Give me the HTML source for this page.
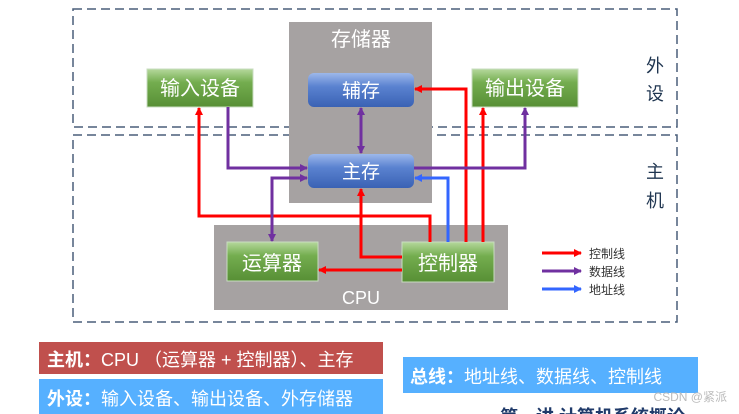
<!DOCTYPE html>
<html><head><meta charset="utf-8"><style>
html,body{margin:0;padding:0;background:#fff;width:739px;height:414px;overflow:hidden}
svg text{font-family:"Liberation Sans","Noto Sans CJK SC",sans-serif}
</style></head><body>
<svg width="739" height="414" viewBox="0 0 739 414" xmlns="http://www.w3.org/2000/svg">
<defs>
<linearGradient id="g" x1="0" y1="0" x2="0" y2="1"><stop offset="0" stop-color="#b5d89c"/><stop offset="0.35" stop-color="#74ad4f"/><stop offset="1" stop-color="#578f35"/></linearGradient>
<linearGradient id="b" x1="0" y1="0" x2="0" y2="1"><stop offset="0" stop-color="#9db8ea"/><stop offset="0.4" stop-color="#5a82d0"/><stop offset="1" stop-color="#3a62b4"/></linearGradient>
<marker id="ar" markerWidth="8" markerHeight="8" refX="7" refY="4" orient="auto" markerUnits="userSpaceOnUse"><path d="M0,0 L8,4 L0,8 Z" fill="#ff0000"/></marker>
<marker id="ap" markerWidth="8" markerHeight="8" refX="7" refY="4" orient="auto" markerUnits="userSpaceOnUse"><path d="M0,0 L8,4 L0,8 Z" fill="#7030a0"/></marker>
<marker id="aps" markerWidth="8" markerHeight="8" refX="1" refY="4" orient="auto" markerUnits="userSpaceOnUse"><path d="M8,0 L0,4 L8,8 Z" fill="#7030a0"/></marker>
<marker id="ab" markerWidth="8" markerHeight="8" refX="7" refY="4" orient="auto" markerUnits="userSpaceOnUse"><path d="M0,0 L8,4 L0,8 Z" fill="#3366ff"/></marker>
</defs>
<rect x="73" y="9" width="604" height="118" fill="none" stroke="#4a5f7a" stroke-width="1.5" stroke-dasharray="9,5"/>
<rect x="73" y="135" width="604" height="187" fill="none" stroke="#4a5f7a" stroke-width="1.5" stroke-dasharray="9,5"/>
<text x="655" y="72" font-size="18" fill="#1f3550" text-anchor="middle">外</text>
<text x="655" y="100" font-size="18" fill="#1f3550" text-anchor="middle">设</text>
<text x="655" y="178" font-size="18" fill="#1f3550" text-anchor="middle">主</text>
<text x="655" y="207" font-size="18" fill="#1f3550" text-anchor="middle">机</text>
<rect x="289" y="22" width="143" height="181" fill="#a6a2a2"/>
<text x="361" y="46" font-size="20" fill="#fff" text-anchor="middle">存储器</text>
<rect x="308" y="73" width="106" height="34" rx="6" fill="url(#b)"/>
<text x="361" y="97" font-size="19" fill="#fff" text-anchor="middle">辅存</text>
<rect x="308" y="154" width="106" height="34" rx="6" fill="url(#b)"/>
<text x="361" y="178" font-size="19" fill="#fff" text-anchor="middle">主存</text>
<rect x="147" y="69" width="106" height="38" fill="url(#g)" stroke="#c8dcc0"/>
<text x="200" y="95" font-size="20" fill="#fff" text-anchor="middle">输入设备</text>
<rect x="472" y="69" width="106" height="38" fill="url(#g)" stroke="#c8dcc0"/>
<text x="525" y="95" font-size="20" fill="#fff" text-anchor="middle">输出设备</text>
<rect x="214" y="225" width="294" height="85" fill="#a6a2a2"/>
<rect x="227" y="242" width="91" height="39" fill="url(#g)" stroke="#c8dcc0"/>
<text x="272" y="270" font-size="20" fill="#fff" text-anchor="middle">运算器</text>
<rect x="402" y="242" width="92" height="40" fill="url(#g)" stroke="#c8dcc0"/>
<text x="448" y="270" font-size="20" fill="#fff" text-anchor="middle">控制器</text>
<text x="361" y="304" font-size="18" fill="#fff" text-anchor="middle">CPU</text>
<g fill="none" stroke-width="3">
<polyline points="430,242 430,216 199,216 199,108" stroke="#ff0000" marker-end="url(#ar)"/>
<polyline points="402,270 319,270" stroke="#ff0000" marker-end="url(#ar)"/>
<polyline points="402,257 361,257 361,189" stroke="#ff0000" marker-end="url(#ar)"/>
<polyline points="466,242 466,89 415,89" stroke="#ff0000" marker-end="url(#ar)"/>
<polyline points="483,242 483,108" stroke="#ff0000" marker-end="url(#ar)"/>
<polyline points="448,242 448,178 415,178" stroke="#3366ff" marker-end="url(#ab)"/>
<polyline points="414,168 525,168 525,108" stroke="#7030a0" marker-end="url(#ap)"/>
<polyline points="228,107 228,168 307,168" stroke="#7030a0" marker-end="url(#ap)"/>
<polyline points="307,178 272,178 272,241" stroke="#7030a0" marker-start="url(#aps)" marker-end="url(#ap)"/>
<polyline points="361,108 361,153" stroke="#7030a0" marker-start="url(#aps)" marker-end="url(#ap)"/>
<line x1="542" y1="253" x2="581" y2="253" stroke="#ff0000" marker-end="url(#ar)"/>
<line x1="542" y1="271" x2="581" y2="271" stroke="#7030a0" marker-end="url(#ap)"/>
<line x1="542" y1="289" x2="581" y2="289" stroke="#3366ff" marker-end="url(#ab)"/>
</g>
<text x="589" y="258" font-size="12" fill="#333">控制线</text>
<text x="589" y="276" font-size="12" fill="#333">数据线</text>
<text x="589" y="294" font-size="12" fill="#333">地址线</text>
<rect x="39" y="342" width="344" height="32" fill="#c0504d"/>
<text x="47" y="366" font-size="18" fill="#fff"><tspan font-weight="bold">主机：</tspan>CPU （运算器 + 控制器）、主存</text>
<rect x="39" y="379" width="344" height="35" fill="#56b0ff"/>
<text x="47" y="405" font-size="18" fill="#fff"><tspan font-weight="bold">外设：</tspan>输入设备、输出设备、外存储器</text>
<rect x="403" y="357" width="295" height="36" fill="#56b0ff"/>
<text x="410" y="383" font-size="18" fill="#fff"><tspan font-weight="bold">总线：</tspan>地址线、数据线、控制线</text>
<text x="727" y="401" font-size="12" fill="#bbb" text-anchor="end">CSDN @紧派</text>
<text x="500" y="423" font-size="18" font-weight="bold" fill="#1f3a6a">第一讲 计算机系统概论</text>
</svg>
</body></html>
